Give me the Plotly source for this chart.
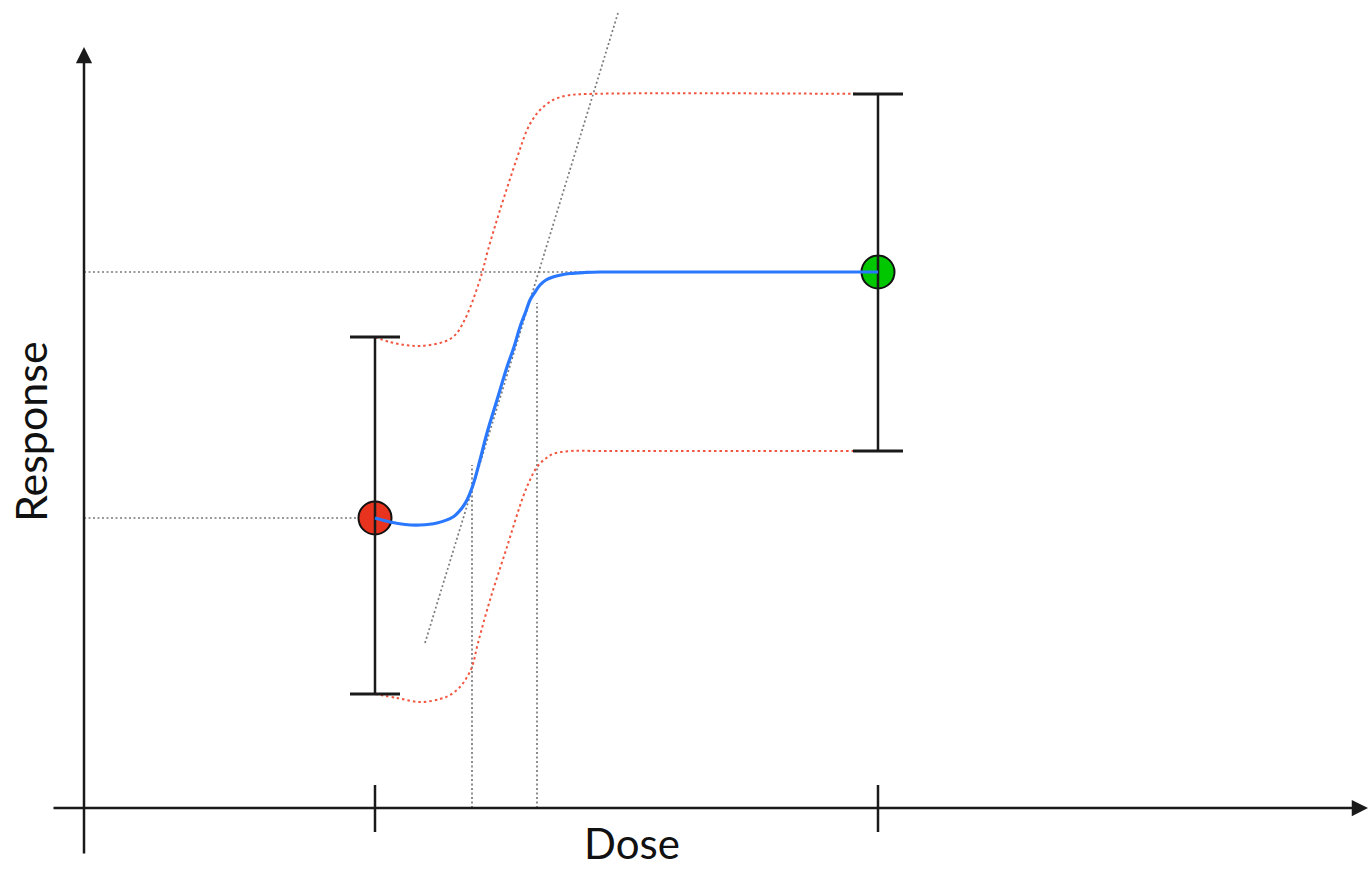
import plotly.graph_objects as go

# Schematic dose-response plot (arbitrary units)
dose_levels = [2.91, 7.94]          # low and high dose
mean_response = [2.90, 5.36]        # observed mean at each dose
err_upper = [4.71, 7.14]            # upper end of each interval
err_lower = [1.14, 3.57]            # lower end of each interval

# fitted response curve
fit_dose = [2.91, 3.06, 3.21, 3.36, 3.53, 3.69, 3.78, 3.83, 3.89, 3.96, 4.03, 4.13,
            4.23, 4.30, 4.36, 4.42, 4.46, 4.51, 4.56, 4.62, 4.69, 4.77, 4.86, 5.01,
            5.16, 7.94]
fit_resp = [2.90, 2.86, 2.835, 2.83, 2.85, 2.91, 3.00, 3.08, 3.23, 3.48, 3.75, 4.08,
            4.41, 4.61, 4.81, 4.97, 5.08, 5.16, 5.23, 5.28, 5.31, 5.33, 5.345, 5.355,
            5.36, 5.36]

# upper confidence band
upper_dose = [2.91, 3.06, 3.21, 3.36, 3.56, 3.66, 3.73, 3.79, 3.83, 3.89, 3.98, 4.04,
              4.16, 4.33, 4.43, 4.49, 4.56, 4.69, 4.83, 5.03, 7.94]
upper_resp = [4.71, 4.66, 4.63, 4.62, 4.65, 4.69, 4.75, 4.85, 4.93, 5.08, 5.35, 5.58,
              5.98, 6.50, 6.78, 6.89, 6.98, 7.08, 7.125, 7.14, 7.14]

# lower confidence band
lower_dose = [2.91, 3.13, 3.36, 3.56, 3.66, 3.76, 3.83, 3.88, 3.94, 4.06, 4.22, 4.39,
              4.46, 4.53, 4.61, 4.69, 4.86, 5.16, 7.94]
lower_resp = [1.14, 1.10, 1.06, 1.09, 1.13, 1.21, 1.31, 1.41, 1.65, 2.08, 2.58, 3.11,
              3.28, 3.41, 3.49, 3.54, 3.57, 3.57, 3.57]

# tangent at the steepest part of the curve
slope_dose = [3.41, 5.34]
slope_resp = [1.65, 7.95]

# reference levels on the dose axis (start / end of the rise)
rise_dose = [3.88, 4.53]
rise_top = [3.43, 5.05]

GREY = "#7a7a7a"
RED_DOT = "#f2553f"
BLUE = "#2a78ff"
AXIS = "#1a1a1a"

fig = go.Figure()

def line(x, y, color, width, dash="solid", shape="linear"):
    fig.add_trace(go.Scatter(x=x, y=y, mode="lines", hoverinfo="skip",
                             line=dict(color=color, width=width, dash=dash, shape=shape)))

# grey guide lines
line([0, dose_levels[1]], [mean_response[1]] * 2, GREY, 1.7, "2px,2.5px")
line([0, dose_levels[0]], [mean_response[0]] * 2, GREY, 1.7, "2px,2.5px")
for d, top in zip(rise_dose, rise_top):
    line([d, d], [0, top], GREY, 1.7, "2px,2.5px")
line(slope_dose, slope_resp, GREY, 1.7, "2px,2.5px")

# confidence band
line(upper_dose, upper_resp, RED_DOT, 2, "2.5px,3px", "spline")
line(lower_dose, lower_resp, RED_DOT, 2, "2.5px,3px", "spline")

# observed means
fig.add_trace(go.Scatter(x=dose_levels, y=mean_response, mode="markers", hoverinfo="skip",
                         marker=dict(size=33, color=["#e8331f", "#00c700"],
                                     line=dict(color="#111111", width=2))))

# interval bars with caps
cap = 0.25
for d, lo, hi in zip(dose_levels, err_lower, err_upper):
    line([d, d], [lo, hi], AXIS, 2.5)
    line([d - cap, d + cap], [hi, hi], AXIS, 3)
    line([d - cap, d + cap], [lo, lo], AXIS, 3)

# fitted curve
line(fit_dose, fit_resp, BLUE, 3.2, "solid", "spline")

# ticks on the dose axis
for d in dose_levels:
    line([d, d], [0.23, -0.24], AXIS, 2.5)

# axes with arrowheads
fig.add_annotation(x=12.84, y=0, ax=-0.32, ay=0, xref="x", yref="y", axref="x", ayref="y",
                   showarrow=True, arrowhead=2, arrowsize=1.3, arrowwidth=2.5,
                   arrowcolor=AXIS, text="")
fig.add_annotation(x=0, y=7.61, ax=0, ay=-0.47, xref="x", yref="y", axref="x", ayref="y",
                   showarrow=True, arrowhead=2, arrowsize=1.3, arrowwidth=2.5,
                   arrowcolor=AXIS, text="")

# axis titles
fig.add_annotation(x=632 / 1370, y=0, xref="paper", yref="paper",
                   xanchor="center", yanchor="bottom", borderpad=0,
                   text="Dose", showarrow=False,
                   font=dict(family="Lato", size=42, color="#111111"))
fig.add_annotation(x=30 / 1370, y=1 - 432 / 869, xref="paper", yref="paper",
                   xanchor="center", yanchor="middle",
                   text="Response", showarrow=False, textangle=-90,
                   font=dict(family="Lato", size=43, color="#111111"))

fig.update_layout(
    width=1370, height=869,
    margin=dict(l=0, r=0, t=0, b=0),
    paper_bgcolor="white", plot_bgcolor="white",
    showlegend=False,
    xaxis=dict(range=[-0.84, 12.86], visible=False, fixedrange=True),
    yaxis=dict(range=[-0.61, 8.08], visible=False, fixedrange=True),
)

fig.write_html("out.html", config={"displayModeBar": False})
